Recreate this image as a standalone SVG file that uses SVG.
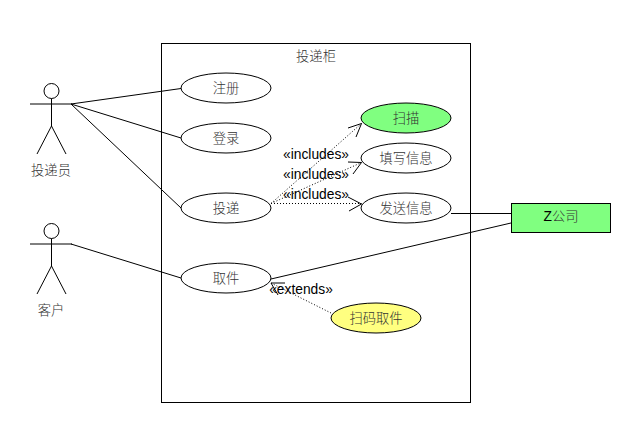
<svg xmlns="http://www.w3.org/2000/svg" width="626" height="429" viewBox="0 0 626 429">
<style>
text{font-family:"Liberation Sans","Noto Sans CJK SC",sans-serif;font-size:13.8px;fill:#000;text-anchor:middle}
.cjk{fill:#333;font-size:13.3px;font-family:"Noto Sans CJK SC",sans-serif;font-weight:300}
.s{fill:none;stroke:#000;stroke-width:1}
.u{stroke:#000;stroke-width:1;fill:#fff}
.d{fill:none;stroke:#000;stroke-width:1;stroke-dasharray:1 2}
</style>
<rect width="626" height="429" fill="#fff"/>
<g id="system"><rect x="161.500" y="43.500" width="309" height="359" class="u"/><text x="316" y="61" class="cjk">投递柜</text></g>
<g id="connectors">
<path class="s" d="M71 104L181 88.500M71 104L181 138M71 104L181 208M71 244L181 278M451 213.500H511M271 279L511 223"/>
<path class="d" d="M271 203.500L361.500 123.500M271 203.500L361.500 162.500M271 203.500L361.500 203.500M331 313L271 283"/>
<path class="s" d="M348 128L361.500 123.500L356 137M348 162L361.500 162.500L353 174M348 197L361.500 204L349 211M285 283H271L278 295"/>
</g>
<g id="actor1"><circle cx="51.500" cy="91" r="7.500" class="u"/><path class="s" d="M30 104H72M51.500 98.500V126L37 154M51.500 126L66 154"/><text x="51" y="175" class="cjk">投递员</text></g>
<g id="actor2"><circle cx="51.500" cy="231" r="7.500" class="u"/><path class="s" d="M30 244H72M51.500 238.500V266L37 294M51.500 266L66 294"/><text x="51" y="315" class="cjk">客户</text></g>
<g id="uc-register"><ellipse cx="226" cy="88" rx="45" ry="15" class="u"/><text x="226" y="93" class="cjk">注册</text></g>
<g id="uc-login"><ellipse cx="226" cy="138" rx="45" ry="15" class="u"/><text x="226" y="143" class="cjk">登录</text></g>
<g id="uc-deliver"><ellipse cx="226" cy="208" rx="45" ry="15" class="u"/><text x="226" y="213" class="cjk">投递</text></g>
<g id="uc-pickup"><ellipse cx="226" cy="278" rx="45" ry="15" class="u"/><text x="226" y="283" class="cjk">取件</text></g>
<g id="uc-scan"><ellipse cx="406" cy="118" rx="45" ry="15" class="u" style="fill:#80ff80"/><text x="406" y="123" class="cjk">扫描</text></g>
<g id="uc-fill"><ellipse cx="406" cy="158" rx="45" ry="15" class="u"/><text x="406" y="163" class="cjk">填写信息</text></g>
<g id="uc-send"><ellipse cx="406" cy="208" rx="45" ry="15" class="u"/><text x="406" y="213" class="cjk">发送信息</text></g>
<g id="uc-qr"><ellipse cx="376" cy="318" rx="45" ry="15" class="u" style="fill:#ffff80"/><text x="376" y="323" class="cjk">扫码取件</text></g>
<g id="z-company"><rect x="511.500" y="203.500" width="99" height="29" class="u" style="fill:#80ff80"/><text x="561" y="221">Z<tspan class="cjk">公司</tspan></text></g>
<g id="labels">
<text x="316" y="159">«includes»</text>
<text x="316" y="179">«includes»</text>
<text x="316" y="199">«includes»</text>
<text x="301" y="294">«extends»</text>
</g>
</svg>
